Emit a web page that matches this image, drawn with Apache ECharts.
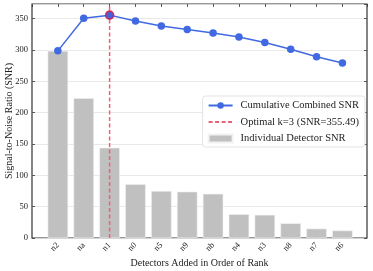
<!DOCTYPE html>
<html><head><meta charset="utf-8">
<script src="https://cdn.jsdelivr.net/npm/echarts@6/dist/echarts.min.js"></script>
<style>html,body{margin:0;padding:0;background:#fff}#c{width:373px;height:271px}</style>
</head><body><div id="c"></div>
<script>
const categories = ['n2','na','n1','n0','n5','n9','nb','n4','n3','n8','n7','n6'];
const individualSNR = [298.5, 223, 144, 86, 75, 74, 70.5, 38, 37, 23.5, 15, 12];
const cumulativeSNR = [298.5, 350.4, 355.49, 346, 338, 332.5, 327, 320.5, 312, 301, 289, 279];
const optimalIndex = 2;
const optimalSNR = 355.49;
const yTicks = [0, 50, 100, 150, 200, 250, 300, 350];
const yMax = 373.26;

const FONT = 'Liberation Serif';
const chart = echarts.init(document.getElementById('c'), null, {renderer: 'canvas'});
const xLabel = v => (Number.isInteger(v) && v >= 0 && v < categories.length) ? categories[v] : '';
const tick = {show: true, inside: true, length: 3, lineStyle: {color: '#333', width: 0.8}};
chart.setOption({
  animation: false,
  textStyle: {fontFamily: FONT},
  grid: {left: 32, right: 6, top: 4, bottom: 33, containLabel: false, outerBoundsMode: 'none',
    show: true, borderColor: '#333', borderWidth: 1.2, backgroundColor: 'transparent'},
  legend: {
    orient: 'vertical', right: 8, top: 96, itemWidth: 24, itemHeight: 8, itemGap: 5.5,
    backgroundColor: '#fff', borderColor: '#ddd', borderWidth: 0.8, borderRadius: 3,
    padding: [4, 6, 3, 5],
    textStyle: {fontFamily: FONT, fontSize: 10.5, color: '#222', padding: [0, 0, 0, 3]},
    data: [
      {name: 'Cumulative Combined SNR'},
      {name: 'Optimal k=3 (SNR=355.49)', itemStyle: {opacity: 0}},
      {name: 'Individual Detector SNR', icon: 'rect', itemStyle: {color: '#c0c0c0'}}
    ]
  },
  xAxis: [{
    type: 'value', min: -1, max: 11.95, interval: 1,
    axisLine: {show: false, onZero: false},
    axisTick: tick,
    axisLabel: {formatter: xLabel, rotate: 45, fontSize: 8.5, color: '#222', fontFamily: FONT, margin: 6, showMinLabel: false, showMaxLabel: false},
    splitLine: {show: false},
    name: 'Detectors Added in Order of Rank', nameLocation: 'middle', nameGap: 20, nameMoveOverlap: false,
    nameTextStyle: {fontSize: 10, color: '#222', fontFamily: FONT}
  }, {
    type: 'value', position: 'top', min: -1, max: 11.95, interval: 1,
    axisLine: {show: false, onZero: false},
    axisTick: tick,
    axisLabel: {show: false}, splitLine: {show: false}
  }],
  yAxis: [{
    type: 'value', position: 'left', min: 0, max: yMax, interval: 50,
    axisLine: {show: false, onZero: false},
    axisTick: tick,
    axisLabel: {fontSize: 8.5, color: '#222', fontFamily: FONT, margin: 4, showMaxLabel: false,
      formatter: v => yTicks.includes(v) ? String(v) : ''},
    splitLine: {show: true, lineStyle: {color: '#e3e3e3', width: 0.8}},
    name: 'Signal-to-Noise Ratio (SNR)', nameLocation: 'middle', nameGap: 18, nameMoveOverlap: false,
    nameTextStyle: {fontSize: 10, color: '#222', fontFamily: FONT}
  }, {
    type: 'value', position: 'right', min: 0, max: yMax, interval: 50,
    axisLine: {show: false, onZero: false},
    axisTick: tick,
    axisLabel: {show: false}, splitLine: {show: false}
  }],
  series: [
    {
      name: 'Individual Detector SNR', type: 'bar', barWidth: 20.5, z: 1,
      itemStyle: {color: '#c0c0c0', borderColor: '#f2f2f2', borderWidth: 0.6},
      data: individualSNR.map((v, i) => [i, v])
    },
    {
      name: 'Optimal k=3 (SNR=355.49)', type: 'line', symbol: 'none', z: 3,
      lineStyle: {color: '#ec6179', width: 1.5, type: [4, 2.5]},
      itemStyle: {color: '#ec6179'},
      data: [[optimalIndex, 0], [optimalIndex, yMax]]
    },
    {
      name: 'Cumulative Combined SNR', type: 'line', symbol: 'circle', symbolSize: 7.5, z: 4,
      lineStyle: {color: '#4169e1', width: 1.5},
      itemStyle: {color: '#4169e1'},
      data: cumulativeSNR.map((v, i) => [i, v])
    },
    {
      name: 'optimalPoint', type: 'scatter', symbol: 'circle', symbolSize: 8, z: 5,
      itemStyle: {color: '#4a5fd8', borderColor: '#dc143c', borderWidth: 1.6},
      data: [[optimalIndex, optimalSNR]]
    }
  ]
});
</script></body></html>
